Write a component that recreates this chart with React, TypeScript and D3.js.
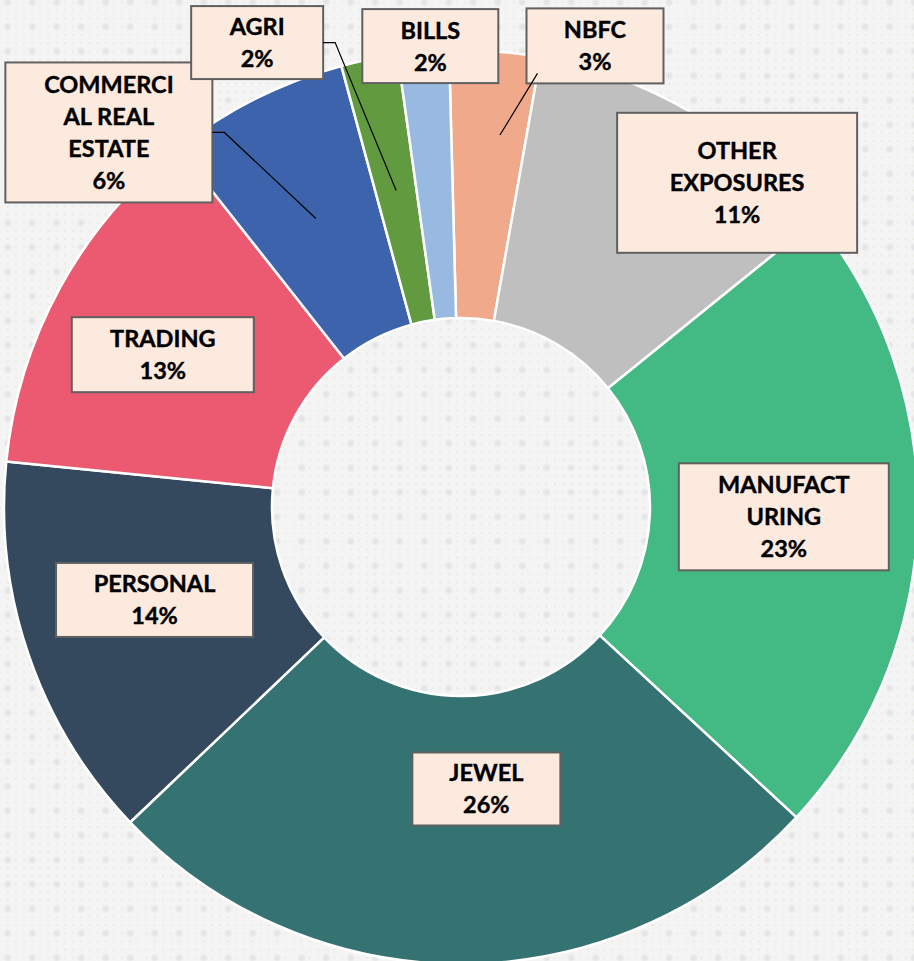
import React, { useEffect, useRef } from "react";
import * as d3 from "d3";

const categories = ["NBFC", "OTHER EXPOSURES", "MANUFACTURING", "JEWEL", "PERSONAL", "TRADING", "COMMERCIAL REAL ESTATE", "AGRI", "BILLS"];
const shares = [3.2, 11.4, 22.7, 26.0, 13.7, 12.8, 6.4, 2.0, 1.8];
// how each category name wraps inside its label box
const labelLines = [["NBFC"], ["OTHER", "EXPOSURES"], ["MANUFACT", "URING"], ["JEWEL"], ["PERSONAL"], ["TRADING"], ["COMMERCI", "AL REAL", "ESTATE"], ["AGRI"], ["BILLS"]];
const colors = ["#F1A98B", "#BFBFBF", "#43B984", "#357372", "#34495E", "#EB5A70", "#3D63AC", "#629B3F", "#98B9E0"];

// label boxes: nudge from the slice centroid, box size, leader style
const labelBoxes = [
  { dx: 110, dy: -139, w: 137, h: 75, leader: "straight" },
  { dx: 112, dy: -46, w: 240, h: 140, leader: "" },
  { dx: 0, dy: -1, w: 210, h: 107, leader: "" },
  { dx: 23, dy: -41, w: 148, h: 73, leader: "" },
  { dx: -1, dy: -12, w: 197, h: 74, leader: "" },
  { dx: -15, dy: 3, w: 182, h: 75, leader: "" },
  { dx: -207, dy: -86, w: 207, h: 140, leader: "elbow" },
  { dx: -139, dy: -148, w: 132, h: 73, leader: "elbow" },
  { dx: -4, dy: -139, w: 136, h: 74, leader: "" },
];

const W = 914;
const H = 961;
const cx = 461;
const cy = 507;
const rIn = 189;
const rOut = 457;

function useD3(render: (svg: d3.Selection<SVGSVGElement, unknown, null, undefined>) => void) {
  const ref = useRef<SVGSVGElement>(null);
  useEffect(() => {
    const svg = d3.select(ref.current as SVGSVGElement);
    svg.selectAll("*").remove();
    render(svg);
  }, []);
  return ref;
}

export default function App() {
  const ref = useD3((svg) => {
    const defs = svg.append("defs");
    const grad = defs.append("radialGradient").attr("id", "softdot");
    grad.append("stop").attr("offset", "0%").attr("stop-color", "#E2E2E2");
    grad.append("stop").attr("offset", "55%").attr("stop-color", "#E8E8E8");
    grad.append("stop").attr("offset", "100%").attr("stop-color", "#F4F4F4").attr("stop-opacity", 0);

    const step = 24.5;
    const pat = defs.append("pattern")
      .attr("id", "dots")
      .attr("patternUnits", "userSpaceOnUse")
      .attr("width", step).attr("height", step)
      .attr("x", 7.7 - step / 2).attr("y", 2.3 - step / 2);
    pat.append("rect").attr("width", step).attr("height", step).attr("fill", "#F4F4F4");
    for (let i = -1; i <= 1; i++) {
      for (let j = -1; j <= 1; j++) {
        pat.append("circle")
          .attr("cx", step / 2 + i * step / 3).attr("cy", step / 2 + j * step / 3)
          .attr("r", 0.8).attr("fill", "#E4E2CC");
      }
    }
    pat.append("circle").attr("cx", step / 2).attr("cy", step / 2).attr("r", 5).attr("fill", "url(#softdot)");

    svg.append("rect").attr("width", W).attr("height", H).attr("fill", "url(#dots)");

    const total = d3.sum(shares);
    const off = (-1.5 * Math.PI) / 180;
    const pie = d3.pie<number>().sort(null).startAngle(off).endAngle(2 * Math.PI + off);
    const arcs = pie(shares);
    const arc = d3.arc<d3.PieArcDatum<number>>().innerRadius(rIn).outerRadius(rOut);

    const g = svg.append("g").attr("transform", `translate(${cx},${cy})`);
    g.selectAll(".slice").data(arcs).enter()
      .append("path")
      .attr("class", "slice")
      .attr("d", arc)
      .attr("fill", (d, i) => colors[i])
      .attr("stroke", "#FFFFFF")
      .attr("stroke-width", 2.5)
      .attr("stroke-linejoin", "round");

    const boxes = arcs.map((d, i) => {
      const [x, y] = arc.centroid(d);
      const b = labelBoxes[i];
      const mx = x + b.dx;
      const my = y + b.dy;
      return { d, i, b, x0: mx - b.w / 2, y0: my - b.h / 2, mx, my, px: x, py: y };
    });

    const lab = svg.append("g").attr("transform", `translate(${cx},${cy})`);
    lab.selectAll(".box").data(boxes).enter()
      .append("rect")
      .attr("class", "box")
      .attr("x", (d) => d.x0).attr("y", (d) => d.y0)
      .attr("width", (d) => d.b.w).attr("height", (d) => d.b.h)
      .attr("fill", "#FDEADE")
      .attr("stroke", "#606060")
      .attr("stroke-width", 2);

    const line = d3.line();
    boxes.forEach((bx) => {
      if (bx.b.leader === "elbow") {
        const sx = bx.x0 + bx.b.w;
        lab.append("path")
          .attr("d", line([[sx, bx.my], [sx + 12, bx.my], [bx.px, bx.py]]))
          .attr("fill", "none").attr("stroke", "#000").attr("stroke-width", 1.2);
      } else if (bx.b.leader === "straight") {
        const mid = (bx.d.startAngle + bx.d.endAngle) / 2 + 0.03;
        const r = 374;
        lab.append("path")
          .attr("d", line([[bx.x0 + 11, bx.y0 + bx.b.h - 10], [r * Math.sin(mid), -r * Math.cos(mid)]]))
          .attr("fill", "none").attr("stroke", "#000").attr("stroke-width", 1.2);
      }
    });

    const lh = 32;
    boxes.forEach((bx) => {
      const lines = [...labelLines[bx.i], `${Math.round((shares[bx.i] / total) * 100)}%`];
      const first = bx.my - ((lines.length - 1) * lh) / 2 + 8.5;
      const t = lab.append("text")
        .attr("text-anchor", "middle")
        .attr("font-family", "Lato, 'Open Sans', sans-serif")
        .attr("font-weight", "bold")
        .attr("font-size", 23.5)
        .attr("fill", "#000")
        .attr("stroke", "#000")
        .attr("stroke-width", 0.4);
      lines.forEach((s, k) => {
        t.append("tspan").attr("x", bx.mx).attr("y", first + k * lh).text(s);
      });
    });
  });

  return (
    <svg
      ref={ref}
      width={W}
      height={H}
      style={{ position: "absolute", left: 0, top: 0, display: "block" }}
    />
  );
}
